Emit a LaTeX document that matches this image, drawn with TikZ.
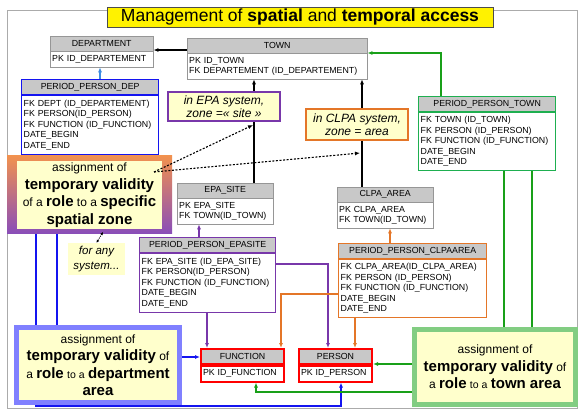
\documentclass[tikz,border=0pt]{standalone}
\usepackage{fontspec}
\setmainfont{Liberation Sans}
\usetikzlibrary{arrows.meta}
\pgfdeclarelayer{back}
\pgfsetlayers{back,main}
\definecolor{headgray}{RGB}{200,200,200}
\definecolor{tabgray}{RGB}{150,150,150}
\definecolor{noteyellow}{RGB}{255,255,204}
\definecolor{roleblue}{RGB}{20,20,240}
\definecolor{sky}{RGB}{60,140,225}
\definecolor{rolepurple}{RGB}{120,55,170}
\definecolor{roleorange}{RGB}{228,118,40}
\definecolor{rolegreen}{RGB}{30,175,80}
\definecolor{linkgreen}{RGB}{25,160,25}
\definecolor{boxblue}{RGB}{128,128,255}
\definecolor{boxgreen}{RGB}{130,205,130}
\definecolor{boxorange}{RGB}{242,146,78}
\definecolor{boxpurple}{RGB}{138,78,184}
\newcommand\tabfont{\fontsize{8.8}{10.5}\selectfont}
\newcommand\boldbig[1]{{\fontsize{15}{17.5}\selectfont\bfseries #1}}
\newcommand\smallbit[1]{{\fontsize{10.5}{17.5}\selectfont #1}}
\begin{document}
\begin{tikzpicture}[x=1pt,y=-1pt,
  thead/.style={draw=#1, fill=headgray, anchor=north west, minimum height=14.5pt, inner sep=0pt, font=\tabfont},
  tbody/.style={draw=#1, fill=white, anchor=north west, align=left, inner xsep=2pt, inner ysep=0pt, font=\tabfont},
  link/.style={draw=#1, line width=1.2pt, -{Latex[length=5pt,width=4pt]}},
  wire/.style={draw=#1, line width=1.2pt},
  hint/.style={line width=1.1pt, dash pattern=on 2pt off 1.6pt, -{Latex[length=5pt,width=4pt]}},
  note/.style={fill=noteyellow, align=center, inner sep=0pt, font=\itshape\fontsize{12}{13}\selectfont},
  rolebox/.style={fill=noteyellow, align=center, inner sep=0pt, font=\fontsize{12}{17.5}\selectfont}]
\useasboundingbox (0,0) rectangle (586,410);

\node[draw=black!70, fill=yellow, minimum width=386pt, minimum height=20pt, inner sep=0pt,
  font=\fontsize{17.5}{18}\selectfont] (title) at (300,17) {Management of \textbf{spatial} and \textbf{temporal access}};

% tables
\node[thead=tabgray, minimum width=103pt] (dept) at (50,36) {DEPARTMENT};
\node[tbody=tabgray, text width=99pt, minimum height=16pt] (dept-b) at (dept.south west) {PK ID\_DEPARTEMENT};

\node[thead=tabgray, minimum width=180pt] (town) at (187,38) {TOWN};
\node[tbody=tabgray, text width=176pt, minimum height=26pt] (town-b) at (town.south west) {PK ID\_TOWN\\FK DEPARTEMENT (ID\_DEPARTEMENT)};

\node[thead=roleblue, line width=1.3pt, minimum width=137pt] (ppd) at (21,79) {PERIOD\_PERSON\_DEP};
\node[tbody=roleblue, line width=1.3pt, text width=133pt, minimum height=59pt] (ppd-b) at (ppd.south west)
  {FK DEPT (ID\_DEPARTEMENT)\\FK PERSON(ID\_PERSON)\\FK FUNCTION (ID\_FUNCTION)\\DATE\_BEGIN\\DATE\_END};

\node[thead=rolegreen, line width=1.3pt, minimum width=137pt] (ppt) at (418,96) {PERIOD\_PERSON\_TOWN};
\node[tbody=rolegreen, line width=1.3pt, text width=133pt, minimum height=58pt] (ppt-b) at (ppt.south west)
  {FK TOWN (ID\_TOWN)\\FK PERSON (ID\_PERSON)\\FK FUNCTION (ID\_FUNCTION)\\DATE\_BEGIN\\DATE\_END};

\node[thead=tabgray, minimum width=96pt] (epa) at (177,183) {EPA\_SITE};
\node[tbody=tabgray, text width=92pt, minimum height=26pt] (epa-b) at (epa.south west) {PK EPA\_SITE\\FK TOWN(ID\_TOWN)};

\node[thead=tabgray, minimum width=96pt] (clpa) at (337,187) {CLPA\_AREA};
\node[tbody=tabgray, text width=92pt, minimum height=26pt] (clpa-b) at (clpa.south west) {PK CLPA\_AREA\\FK TOWN(ID\_TOWN)};

\node[thead=rolepurple, line width=1.3pt, minimum width=136pt] (ppe) at (139,237) {PERIOD\_PERSON\_EPASITE};
\node[tbody=rolepurple, line width=1.3pt, text width=132pt, minimum height=59pt] (ppe-b) at (ppe.south west)
  {FK EPA\_SITE (ID\_EPA\_SITE)\\FK PERSON(ID\_PERSON)\\FK FUNCTION (ID\_FUNCTION)\\DATE\_BEGIN\\DATE\_END};

\node[thead=roleorange, line width=1.3pt, minimum width=148pt] (ppc) at (338,243) {PERIOD\_PERSON\_CLPAAREA};
\node[tbody=roleorange, line width=1.3pt, text width=144pt, minimum height=58pt] (ppc-b) at (ppc.south west)
  {FK CLPA\_AREA(ID\_CLPA\_AREA)\\FK PERSON (ID\_PERSON)\\FK FUNCTION (ID\_FUNCTION)\\DATE\_BEGIN\\DATE\_END};

\node[thead=red, line width=2pt, minimum width=83pt] (func) at (200,348) {FUNCTION};
\node[tbody=red, line width=2pt, text width=79pt, minimum height=16pt] (func-b) at (func.south west) {PK ID\_FUNCTION};

\node[thead=red, line width=2pt, minimum width=73pt] (pers) at (298,348) {PERSON};
\node[tbody=red, line width=2pt, text width=69pt, minimum height=16pt] (pers-b) at (pers.south west) {PK ID\_PERSON};

% notes
\node[note, draw=rolepurple, line width=1.3pt, minimum width=112pt, minimum height=29pt] (epanote) at (224,106.5) {in EPA system,\\zone =« site »};
\node[note, draw=roleorange, line width=1.3pt, minimum width=102pt, minimum height=31pt] (clpanote) at (357,124.5) {in CLPA system,\\zone = area};
\node[note, minimum width=57pt, minimum height=32pt, font=\itshape\fontsize{11.5}{15}\selectfont] (anynote) at (96.5,259) {for any\\system...};

% role assignment boxes
\node[shade, top color=boxorange, bottom color=boxpurple, minimum width=165pt, minimum height=78pt, inner sep=0pt] (zoneframe) at (89.5,194) {};
\node[rolebox, minimum width=145pt, minimum height=68pt] (zone) at (89.5,195)
  {assignment of\\\boldbig{temporary validity}\\of a \boldbig{role} to a \boldbig{specific}\\\boldbig{spatial zone}};
\node[rolebox, draw=boxblue, line width=5pt, minimum width=163pt, minimum height=75pt] (deparea) at (98,365)
  {assignment of\\\boldbig{temporary validity} of\\a \boldbig{role} \smallbit{to a} \boldbig{department}\\\boldbig{area}};
\node[rolebox, draw=boxgreen, line width=5pt, minimum width=161pt, minimum height=75pt] (townarea) at (495,367)
  {assignment of\\\boldbig{temporary validity} of\\a \boldbig{role} \smallbit{to a} \boldbig{town area}};

\begin{pgfonlayer}{back}
\draw[tabgray!80, line width=0.8pt] (7,10) rectangle (577,408);
% department and town
\draw[link=black] (town.west |- 0,50) -- (dept.east |- 0,50);
\draw[link=sky] (ppd.north -| 100,0) -- (dept-b.south -| 100,0);
\draw[link=black] (epa.north -| 254,0) -- (town-b.south -| 254,0);
\draw[link=black] (clpa.north -| 362,0) -- (town-b.south -| 362,0);
\draw[link=linkgreen, line width=1.4pt] (ppt.north -| 441,0) |- (town.east |- 0,53);
% period tables to function and person
\draw[wire=roleblue] (ppd-b.south -| 57,0) -- (deparea.north -| 57,0);
\draw[link=roleblue] (deparea.east |- 0,357) -- (func.west |- 0,357);
\draw[link=roleblue] (ppd-b.south -| 36,0) |- (341,406) -- (pers-b.south -| 341,0);
\draw[link=rolepurple] (ppe.north -| 199,0) -- (epa-b.south -| 199,0);
\draw[link=rolepurple] (ppe-b.south -| 207,0) -- (func.north -| 207,0);
\draw[link=rolepurple] (ppe-b.east |- 0,264) -| (pers.north -| 328,0);
\draw[link=roleorange] (ppc.north -| 390,0) -- (clpa-b.south -| 390,0);
\draw[link=roleorange] (ppc-b.west |- 0,294) -| (func.north -| 281,0);
\draw[link=roleorange] (ppc-b.south -| 355,0) -- (pers.north -| 355,0);
\draw[wire=linkgreen] (ppt-b.south -| 504,0) -- (townarea.north -| 504,0);
\draw[wire=linkgreen] (ppt-b.south -| 532,0) -- (townarea.north -| 532,0);
\draw[link=linkgreen] (townarea.west |- 0,364) -- (pers.east |- 0,364);
\draw[link=linkgreen] (townarea.west |- 0,392) -| (func-b.south -| 256,0);
\end{pgfonlayer}

% dotted hints
\coordinate (zonetip) at (154,172);
\coordinate (epatip) at (253,125);
\coordinate (clpatip) at (360,153);
\coordinate (zonefoot) at (103,232);
\draw[hint] (zonetip) -- (epatip);
\draw[hint] (zonetip) -- (clpatip);
\draw[line width=0.7pt, dash pattern=on 1.2pt off 1pt, {Latex[length=3pt,width=3pt]}-{Latex[length=3pt,width=3pt]}] (anynote.north) -- (zonefoot);
\end{tikzpicture}
\end{document}
